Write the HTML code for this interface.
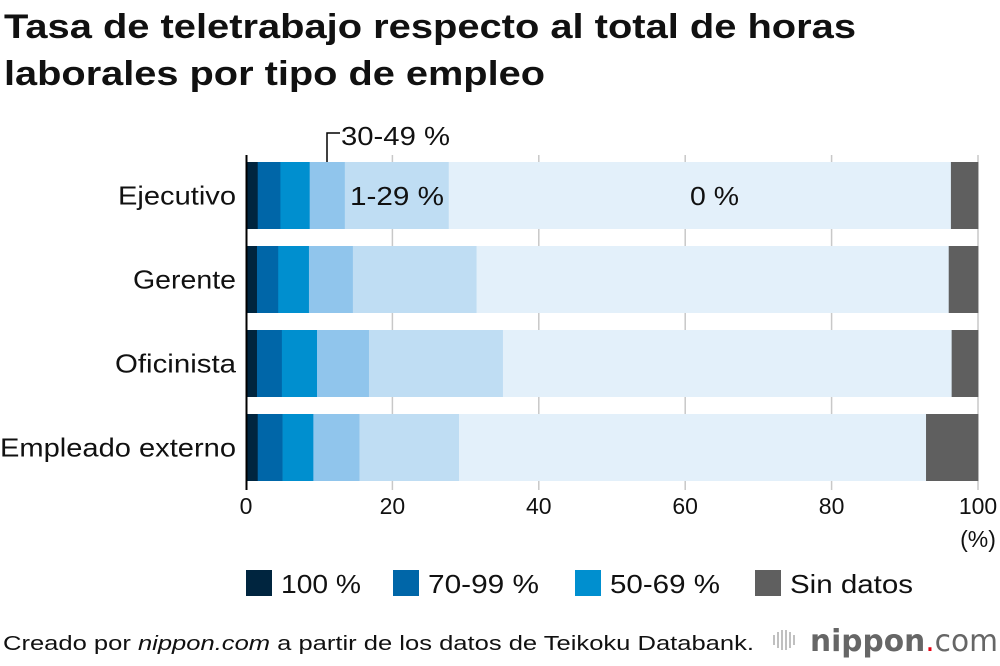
<!DOCTYPE html>
<html><head><meta charset="utf-8"><style>
body{margin:0;background:#fff;font-family:"Liberation Sans",Arial,sans-serif;}
svg{display:block}
</style></head><body>
<svg width="1000" height="666" xmlns="http://www.w3.org/2000/svg" font-family="Liberation Sans, Arial, sans-serif">
<text x="4" y="38" font-size="34" font-weight="bold" fill="#111" textLength="852" lengthAdjust="spacingAndGlyphs">Tasa de teletrabajo respecto al total de horas</text>
<text x="4" y="85" font-size="34" font-weight="bold" fill="#111" textLength="541" lengthAdjust="spacingAndGlyphs">laborales por tipo de empleo</text>
<g id="grid"></g>
<g id="bars"></g>
<g id="ylabels"></g>
<g id="xticks"></g>
<line x1="246.5" y1="155" x2="246.5" y2="490" stroke="#000" stroke-width="2"/>
<text x="978" y="547" font-size="23" text-anchor="middle" fill="#111">(%)</text>
<path d="M327 162 V133 H340" stroke="#000" stroke-width="1.5" fill="none"/>
<text x="341" y="145" font-size="26" fill="#111" textLength="109" lengthAdjust="spacingAndGlyphs">30-49 %</text>
<text x="350" y="205" font-size="26" fill="#111" textLength="94" lengthAdjust="spacingAndGlyphs">1-29 %</text>
<text x="690" y="205" font-size="26" fill="#111" textLength="49" lengthAdjust="spacingAndGlyphs">0 %</text>
<g>
<rect x="246" y="570" width="26" height="26" fill="#00253f"/>
<text x="281" y="593" font-size="26" fill="#111" textLength="80" lengthAdjust="spacingAndGlyphs">100 %</text>
<rect x="393" y="570" width="26" height="26" fill="#0066a8"/>
<text x="428" y="593" font-size="26" fill="#111" textLength="111" lengthAdjust="spacingAndGlyphs">70-99 %</text>
<rect x="575" y="570" width="26" height="26" fill="#008fcf"/>
<text x="610" y="593" font-size="26" fill="#111" textLength="110" lengthAdjust="spacingAndGlyphs">50-69 %</text>
<rect x="755" y="570" width="26" height="26" fill="#5f5f5f"/>
<text x="790" y="593" font-size="26" fill="#111" textLength="123" lengthAdjust="spacingAndGlyphs">Sin datos</text>
</g>
<text x="3" y="650" font-size="20" fill="#111" textLength="751" lengthAdjust="spacingAndGlyphs">Creado por <tspan font-style="italic">nippon.com</tspan> a partir de los datos de Teikoku Databank.</text>
<g>
<g stroke="#aaa" stroke-width="1.5"><line x1="774" y1="635" x2="774" y2="645"/><line x1="778" y1="632" x2="778" y2="648"/><line x1="782" y1="630" x2="782" y2="650"/><line x1="786" y1="630" x2="786" y2="650"/><line x1="790" y1="632" x2="790" y2="648"/><line x1="794" y1="635" x2="794" y2="645"/></g>
<text x="810" y="651" font-size="30" fill="#666" font-family="DejaVu Sans, sans-serif" textLength="188" lengthAdjust="spacingAndGlyphs"><tspan font-weight="bold">nippon</tspan><tspan fill="#e60012">.</tspan><tspan>com</tspan></text>
</g>
</svg>
<script>
const categories=["Ejecutivo","Gerente","Oficinista","Empleado externo"];
const s100=[1.6,1.5,1.5,1.6];
const s7099=[3.1,2.9,3.4,3.4];
const s5069=[4.0,4.2,4.8,4.2];
const s3049=[4.8,6.0,7.1,6.3];
const s129=[14.2,16.9,18.3,13.6];
const s0=[68.6,64.5,61.3,63.8];
const sSin=[3.7,4.0,3.6,6.8];
const xTicks=[0,20,40,60,80,100];
const seriesNames=["100","70-99","50-69","30-49","1-29","0","sin-datos"];
const colors=["#00253f","#0066a8","#008fcf","#90c5ec","#bfddf3","#e3f0fa","#5f5f5f"];
const labelWidths=[118,103,121,236];
const NS="http://www.w3.org/2000/svg";
const x=v=>246+v*7.32;
const y=i=>162+i*84;
const bh=67;
const series=[s100,s7099,s5069,s3049,s129,s0,sSin];
const grid=document.getElementById('grid'),bars=document.getElementById('bars'),yl=document.getElementById('ylabels'),xt=document.getElementById('xticks');
xTicks.forEach(t=>{
  if(t>0){const l=document.createElementNS(NS,'line');
  
  
  l.setAttribute('x1',x(t));l.setAttribute('x2',x(t));l.setAttribute('y1',155);l.setAttribute('y2',490);
  l.setAttribute('stroke','#c8c8c8');l.setAttribute('stroke-width','1.5');grid.appendChild(l);}
  const tx=document.createElementNS(NS,'text');
  
  
  tx.setAttribute('x',x(t));tx.setAttribute('y',514);tx.setAttribute('font-size','23');tx.setAttribute('text-anchor','middle');tx.setAttribute('fill','#111');
  tx.textContent=t;xt.appendChild(tx);
});
categories.forEach((c,i)=>{
  let acc=0;
  series.forEach((s,k)=>{
    const r=document.createElementNS(NS,'rect');
    
    
    let w=s[i];
    if(k===series.length-1) w=Math.max(w,100-acc);
    r.setAttribute('x',x(acc));r.setAttribute('y',y(i));r.setAttribute('width',w*7.32+0.3);r.setAttribute('height',bh);r.setAttribute('fill',colors[k]);
    bars.appendChild(r);acc+=s[i];
  });
  const t=document.createElementNS(NS,'text');
  
  
  t.setAttribute('x',236-labelWidths[i]);t.setAttribute('y',y(i)+bh/2+9);t.setAttribute('font-size','26');t.setAttribute('fill','#111');
  t.setAttribute('textLength',labelWidths[i]);t.setAttribute('lengthAdjust','spacingAndGlyphs');
  t.textContent=c;yl.appendChild(t);
});
</script>
</body></html>
